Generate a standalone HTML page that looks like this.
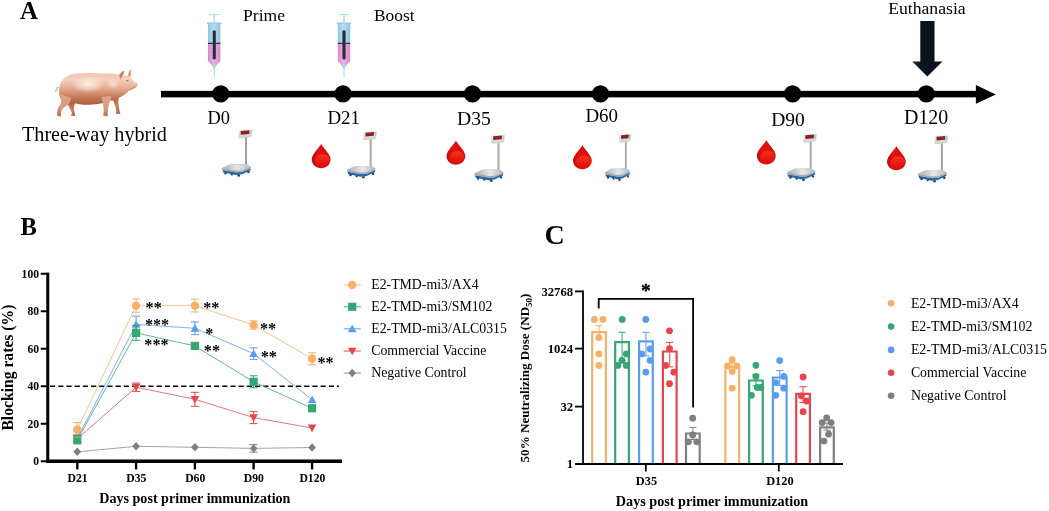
<!DOCTYPE html>
<html lang="en"><head><meta charset="utf-8"><title>Figure: immunization schedule, blocking rates and neutralizing dose</title>
<style>html,body{margin:0;padding:0;background:#fff}svg{display:block;will-change:transform;-webkit-font-smoothing:antialiased}text{font-family:"Liberation Serif", serif;fill:#000} .b{font-weight:bold}</style></head><body>
<svg width="1049" height="511" viewBox="0 0 1049 511">
<defs>
<linearGradient id="gBlue" x1="0" x2="1" y1="0" y2="0"><stop offset="0" stop-color="#8fc4e4"/><stop offset="0.45" stop-color="#b6def2"/><stop offset="1" stop-color="#8fc4e4"/></linearGradient>
<linearGradient id="gPink" x1="0" x2="1" y1="0" y2="0"><stop offset="0" stop-color="#d58ccb"/><stop offset="0.45" stop-color="#eaaee2"/><stop offset="1" stop-color="#d58ccb"/></linearGradient>
<linearGradient id="gPole" x1="0" x2="1" y1="0" y2="0"><stop offset="0" stop-color="#7d7d7d"/><stop offset="0.5" stop-color="#b5b5b5"/><stop offset="1" stop-color="#7d7d7d"/></linearGradient>
<linearGradient id="gHead" x1="0" x2="0" y1="0" y2="1"><stop offset="0" stop-color="#f2f2ee"/><stop offset="1" stop-color="#cfcfc8"/></linearGradient>
<linearGradient id="gPlat" x1="0" x2="1" y1="0" y2="0"><stop offset="0" stop-color="#a9adb1"/><stop offset="0.55" stop-color="#e6e8ea"/><stop offset="1" stop-color="#b4b8bc"/></linearGradient>
<linearGradient id="gBlood" x1="0" x2="1" y1="0" y2="0"><stop offset="0" stop-color="#c40808"/><stop offset="0.35" stop-color="#e01212"/><stop offset="1" stop-color="#d60c0c"/></linearGradient>
<linearGradient id="gBlood2" x1="0" x2="0" y1="0" y2="1"><stop offset="0" stop-color="#f8301e"/><stop offset="1" stop-color="#d80e0b"/></linearGradient>
<linearGradient id="gPig" x1="0" x2="0" y1="0" y2="1"><stop offset="0" stop-color="#efc3ad"/><stop offset="0.3" stop-color="#f4cfbd"/><stop offset="0.55" stop-color="#e4aa8f"/><stop offset="0.78" stop-color="#c57b59"/><stop offset="1" stop-color="#aa5b39"/></linearGradient>
<radialGradient id="gPigHi" cx="0.5" cy="0.5" r="0.5"><stop offset="0" stop-color="#fdf1ea" stop-opacity="0.95"/><stop offset="1" stop-color="#fdf1ea" stop-opacity="0"/></radialGradient>
<linearGradient id="gPigLeg" x1="0" x2="0" y1="0" y2="1"><stop offset="0" stop-color="#e0a488"/><stop offset="0.6" stop-color="#d89a7e"/><stop offset="1" stop-color="#b56c4c"/></linearGradient>
<linearGradient id="gPigLegD" x1="0" x2="0" y1="0" y2="1"><stop offset="0" stop-color="#ab5f3f"/><stop offset="0.6" stop-color="#c58467"/><stop offset="1" stop-color="#ad6444"/></linearGradient>
<linearGradient id="gArrow" x1="0" x2="1" y1="0" y2="0"><stop offset="0" stop-color="#1c2c40"/><stop offset="0.3" stop-color="#0b131d"/><stop offset="1" stop-color="#0a1119"/></linearGradient>
</defs>
<rect width="1049" height="511" fill="#fff"/>
<g id="panelA">
<text class="b" x="20" y="19" font-size="24.9">A</text>
<g><path d="M59.6 88.2 C57.2 86 55.4 88.6 57.4 89.6 C55.2 89.8 55.4 91.6 56.2 92.4" fill="none" stroke="#c98f78" stroke-width="0.9"/><path d="M66.5 100 C67 104 70 108 72 113 L71 115.8 L75.2 116 L74.8 113.6 C73.4 109 73.6 105.4 76 102 Z" fill="url(#gPigLegD)"/><path d="M111.5 97 C113.6 101 115.6 106 116.4 111.6 L115.8 113.8 L120.4 114 L119.6 111.2 C118.8 105.4 117.6 100.2 119 95 Z" fill="url(#gPigLegD)"/><path d="M59.2 92.6 C58.6 86 60.6 79.6 67.4 76 C74 72.8 86 72.6 98 73.2 C106 73.4 113 73.4 118.6 74.4 C120 72.6 122.2 70.6 124.6 70.4 C124.6 72.4 123.6 74.6 122.8 76 C124.4 75.4 126.4 75.2 127.6 75.6 C128 73.2 129.2 70.4 130.8 68.8 C131.8 71 131.6 74.4 130.4 76.8 C132 78.6 133.4 81 134.4 82.6 C136.2 82.4 137.8 83 137.8 84.6 C137.8 86.6 136.2 87.4 134.6 88 C132.8 89.6 130.4 90.6 128.6 91 C126.4 93.6 122.6 96 119.6 97.4 C116.6 99.6 113 100.4 110.4 100.6 C104 103.4 98 104.6 90 104.8 C83 105 77 104.2 72.6 102.4 C68 103.6 62.6 101.6 60.6 98.4 C59.6 96.6 59.2 94.6 59.2 92.6 Z" fill="url(#gPig)"/><ellipse cx="88" cy="84" rx="17" ry="9" fill="url(#gPigHi)"/><ellipse cx="113" cy="84" rx="7" ry="6" fill="url(#gPigHi)" opacity="0.6"/><path d="M60.4 94 C60.6 99 61.6 102 60.4 104.6 C58.6 106.6 57.4 108.6 57.4 111 L57 115.6 L60.8 116.8 L61 114 C60.6 111 62.2 108.6 65.4 106.6 C68.4 104.6 70.6 102.6 71 98 Z" fill="url(#gPigLeg)"/><path d="M101.6 97 C102.6 102 103.6 106 103.8 110.6 L103.2 115.6 L107.6 116.6 L107.8 113.6 C107.6 109 108.6 104.6 110.6 100 C111.2 98.6 111 97 110.6 96 Z" fill="url(#gPigLeg)"/><path d="M119.4 75.6 C120.4 73.6 122.2 71.4 124.2 71 C124 73.4 122.6 76.4 120.2 79.4 Z" fill="#c98468"/><path d="M128.4 75.8 C128.6 73.8 129.6 71.4 130.6 70 C131 72 130.8 74.6 129.8 76.6 Z" fill="#cf9076"/><ellipse cx="127.4" cy="80.8" rx="1.3" ry="0.8" fill="#9a5a48" opacity="0.8"/><path d="M130.6 88.8 C132.6 88.4 134.6 87.6 136 86.4" fill="none" stroke="#b87058" stroke-width="0.6"/></g>
<text x="22" y="140.8" font-size="20.16">Three-way hybrid</text>
<rect x="161" y="90.85" width="817" height="6.5" fill="#000"/>
<path d="M975.9 85.1 L995.9 94.4 L975.9 103.8 Z" fill="#000"/>
<circle cx="220.75" cy="93.9" r="8.7" fill="#000"/>
<circle cx="343" cy="93.9" r="8.7" fill="#000"/>
<circle cx="472.5" cy="93.9" r="8.7" fill="#000"/>
<circle cx="600.5" cy="93.9" r="8.7" fill="#000"/>
<circle cx="792.6" cy="93.9" r="8.7" fill="#000"/>
<circle cx="926.3" cy="93.9" r="8.7" fill="#000"/>
<text x="207.5" y="124.25" font-size="18.41">D0</text>
<text x="327.5" y="124.25" font-size="18.87">D21</text>
<text x="457" y="124.5" font-size="19.60">D35</text>
<text x="585.5" y="121.75" font-size="18.87">D60</text>
<text x="771.2" y="125.8" font-size="19.51">D90</text>
<text x="904" y="123.6" font-size="19.94">D120</text>
<g transform="translate(208.00,0)"><rect x="1" y="14" width="10.6" height="1.1" fill="#b4dcef"/><rect x="5.4" y="14" width="1.7" height="10" fill="#b4dcef"/><rect x="-1.1" y="22.6" width="14.6" height="1.6" rx="0.8" fill="#93c6e4"/><rect x="0" y="23.5" width="12.4" height="20" fill="url(#gBlue)"/><path d="M0 43.4 H12.4 V60 Q12.4 62 10.8 62.8 L7.6 66.5 H4.8 L1.6 62.8 Q0 62 0 60 Z" fill="url(#gPink)"/><path d="M3.4 64.6 L9 64.6 L7 68.6 L5.4 68.6 Z" fill="#a9d6ec"/><rect x="5.8" y="68" width="0.9" height="9.6" fill="#9ed0ea"/><rect x="0" y="42.8" width="12.4" height="1.1" fill="#1d2230"/><rect x="5.0" y="30.8" width="2.4" height="27.6" rx="1.2" fill="#2b2b30"/><path d="M6.2 31.8 V57.8" stroke="#2b2b30" stroke-width="3.3" stroke-dasharray="0.1 2.25" stroke-linecap="round" fill="none"/></g>
<g transform="translate(337.80,0)"><rect x="1" y="14" width="10.6" height="1.1" fill="#b4dcef"/><rect x="5.4" y="14" width="1.7" height="10" fill="#b4dcef"/><rect x="-1.1" y="22.6" width="14.6" height="1.6" rx="0.8" fill="#93c6e4"/><rect x="0" y="23.5" width="12.4" height="20" fill="url(#gBlue)"/><path d="M0 43.4 H12.4 V60 Q12.4 62 10.8 62.8 L7.6 66.5 H4.8 L1.6 62.8 Q0 62 0 60 Z" fill="url(#gPink)"/><path d="M3.4 64.6 L9 64.6 L7 68.6 L5.4 68.6 Z" fill="#a9d6ec"/><rect x="5.8" y="68" width="0.9" height="9.6" fill="#9ed0ea"/><rect x="0" y="42.8" width="12.4" height="1.1" fill="#1d2230"/><rect x="5.0" y="30.8" width="2.4" height="27.6" rx="1.2" fill="#2b2b30"/><path d="M6.2 31.8 V57.8" stroke="#2b2b30" stroke-width="3.3" stroke-dasharray="0.1 2.25" stroke-linecap="round" fill="none"/></g>
<text x="243" y="21" font-size="17.58">Prime</text>
<text x="374" y="20.5" font-size="17.35">Boost</text>
<text x="888.2" y="13.6" font-size="17.66">Euthanasia</text>
<path d="M920.3 20.9 H934.5 V61.4 H942.5 L927.4 76.5 L912.3 61.4 H920.3 Z" fill="url(#gArrow)"/>
<g transform="translate(222.00,128.75) scale(1.000,1)"><rect x="23.1" y="8" width="1.8" height="29.8" fill="url(#gPole)"/><path d="M17.2 1.6 L30.2 0.4 Q31 0.4 30.8 1.3 L29.6 7.4 Q29.4 8.3 28.4 8.5 L18 9.7 Q16.6 9.8 16.6 8.6 L16.5 2.6 Q16.5 1.7 17.2 1.6 Z" fill="url(#gHead)"/><path d="M18.6 2.3 L27.6 1.5 L27.2 5.2 L18.8 6.1 Z" fill="#8b2226"/><path d="M28.2 1.6 L30 1.4 L29.2 5.8 L27.8 6 Z" fill="#a9c5de"/><path d="M0.8 41.2 L14 43.6 L20 43.2 L28.6 39.6 L28.6 41.6 L20 45.6 L14 46.2 L0.8 43.4 Z" fill="#2566a6"/><rect x="2.4" y="43.4" width="2.2" height="2.2" fill="#17406e"/><rect x="15.4" y="45.8" width="2.6" height="2" fill="#17406e"/><rect x="25.4" y="42.4" width="2.2" height="2" fill="#17406e"/><rect x="8.8" y="44.8" width="2" height="1.8" fill="#17406e"/><path d="M0 39.6 L7.8 35.7 L24.8 35.5 L28.8 38.2 L28.8 39.8 L20 43.4 L14 43.8 L0 41.3 Z" fill="#a3a9af"/><path d="M0 39.6 L7.8 35.7 L24.8 35.5 L28.8 38.2 L20 41.7 L14 42.1 Z" fill="url(#gPlat)"/></g>
<g transform="translate(347.00,130.50) scale(0.984,1)"><rect x="23.1" y="8" width="1.8" height="29.8" fill="url(#gPole)"/><path d="M17.2 1.6 L30.2 0.4 Q31 0.4 30.8 1.3 L29.6 7.4 Q29.4 8.3 28.4 8.5 L18 9.7 Q16.6 9.8 16.6 8.6 L16.5 2.6 Q16.5 1.7 17.2 1.6 Z" fill="url(#gHead)"/><path d="M18.6 2.3 L27.6 1.5 L27.2 5.2 L18.8 6.1 Z" fill="#8b2226"/><path d="M28.2 1.6 L30 1.4 L29.2 5.8 L27.8 6 Z" fill="#a9c5de"/><path d="M0.8 41.2 L14 43.6 L20 43.2 L28.6 39.6 L28.6 41.6 L20 45.6 L14 46.2 L0.8 43.4 Z" fill="#2566a6"/><rect x="2.4" y="43.4" width="2.2" height="2.2" fill="#17406e"/><rect x="15.4" y="45.8" width="2.6" height="2" fill="#17406e"/><rect x="25.4" y="42.4" width="2.2" height="2" fill="#17406e"/><rect x="8.8" y="44.8" width="2" height="1.8" fill="#17406e"/><path d="M0 39.6 L7.8 35.7 L24.8 35.5 L28.8 38.2 L28.8 39.8 L20 43.4 L14 43.8 L0 41.3 Z" fill="#a3a9af"/><path d="M0 39.6 L7.8 35.7 L24.8 35.5 L28.8 38.2 L20 41.7 L14 42.1 Z" fill="url(#gPlat)"/></g>
<g transform="translate(474.50,134.00) scale(1.000,1)"><rect x="23.1" y="8" width="1.8" height="29.8" fill="url(#gPole)"/><path d="M17.2 1.6 L30.2 0.4 Q31 0.4 30.8 1.3 L29.6 7.4 Q29.4 8.3 28.4 8.5 L18 9.7 Q16.6 9.8 16.6 8.6 L16.5 2.6 Q16.5 1.7 17.2 1.6 Z" fill="url(#gHead)"/><path d="M18.6 2.3 L27.6 1.5 L27.2 5.2 L18.8 6.1 Z" fill="#8b2226"/><path d="M28.2 1.6 L30 1.4 L29.2 5.8 L27.8 6 Z" fill="#a9c5de"/><path d="M0.8 41.2 L14 43.6 L20 43.2 L28.6 39.6 L28.6 41.6 L20 45.6 L14 46.2 L0.8 43.4 Z" fill="#2566a6"/><rect x="2.4" y="43.4" width="2.2" height="2.2" fill="#17406e"/><rect x="15.4" y="45.8" width="2.6" height="2" fill="#17406e"/><rect x="25.4" y="42.4" width="2.2" height="2" fill="#17406e"/><rect x="8.8" y="44.8" width="2" height="1.8" fill="#17406e"/><path d="M0 39.6 L7.8 35.7 L24.8 35.5 L28.8 38.2 L28.8 39.8 L20 43.4 L14 43.8 L0 41.3 Z" fill="#a3a9af"/><path d="M0 39.6 L7.8 35.7 L24.8 35.5 L28.8 38.2 L20 41.7 L14 42.1 Z" fill="url(#gPlat)"/></g>
<g transform="translate(605.00,133.00) scale(0.863,1)"><rect x="23.1" y="8" width="1.8" height="29.8" fill="url(#gPole)"/><path d="M17.2 1.6 L30.2 0.4 Q31 0.4 30.8 1.3 L29.6 7.4 Q29.4 8.3 28.4 8.5 L18 9.7 Q16.6 9.8 16.6 8.6 L16.5 2.6 Q16.5 1.7 17.2 1.6 Z" fill="url(#gHead)"/><path d="M18.6 2.3 L27.6 1.5 L27.2 5.2 L18.8 6.1 Z" fill="#8b2226"/><path d="M28.2 1.6 L30 1.4 L29.2 5.8 L27.8 6 Z" fill="#a9c5de"/><path d="M0.8 41.2 L14 43.6 L20 43.2 L28.6 39.6 L28.6 41.6 L20 45.6 L14 46.2 L0.8 43.4 Z" fill="#2566a6"/><rect x="2.4" y="43.4" width="2.2" height="2.2" fill="#17406e"/><rect x="15.4" y="45.8" width="2.6" height="2" fill="#17406e"/><rect x="25.4" y="42.4" width="2.2" height="2" fill="#17406e"/><rect x="8.8" y="44.8" width="2" height="1.8" fill="#17406e"/><path d="M0 39.6 L7.8 35.7 L24.8 35.5 L28.8 38.2 L28.8 39.8 L20 43.4 L14 43.8 L0 41.3 Z" fill="#a3a9af"/><path d="M0 39.6 L7.8 35.7 L24.8 35.5 L28.8 38.2 L20 41.7 L14 42.1 Z" fill="url(#gPlat)"/></g>
<g transform="translate(787.00,133.00) scale(0.984,1)"><rect x="23.1" y="8" width="1.8" height="29.8" fill="url(#gPole)"/><path d="M17.2 1.6 L30.2 0.4 Q31 0.4 30.8 1.3 L29.6 7.4 Q29.4 8.3 28.4 8.5 L18 9.7 Q16.6 9.8 16.6 8.6 L16.5 2.6 Q16.5 1.7 17.2 1.6 Z" fill="url(#gHead)"/><path d="M18.6 2.3 L27.6 1.5 L27.2 5.2 L18.8 6.1 Z" fill="#8b2226"/><path d="M28.2 1.6 L30 1.4 L29.2 5.8 L27.8 6 Z" fill="#a9c5de"/><path d="M0.8 41.2 L14 43.6 L20 43.2 L28.6 39.6 L28.6 41.6 L20 45.6 L14 46.2 L0.8 43.4 Z" fill="#2566a6"/><rect x="2.4" y="43.4" width="2.2" height="2.2" fill="#17406e"/><rect x="15.4" y="45.8" width="2.6" height="2" fill="#17406e"/><rect x="25.4" y="42.4" width="2.2" height="2" fill="#17406e"/><rect x="8.8" y="44.8" width="2" height="1.8" fill="#17406e"/><path d="M0 39.6 L7.8 35.7 L24.8 35.5 L28.8 38.2 L28.8 39.8 L20 43.4 L14 43.8 L0 41.3 Z" fill="#a3a9af"/><path d="M0 39.6 L7.8 35.7 L24.8 35.5 L28.8 38.2 L20 41.7 L14 42.1 Z" fill="url(#gPlat)"/></g>
<g transform="translate(918.00,134.50) scale(0.992,1)"><rect x="23.1" y="8" width="1.8" height="29.8" fill="url(#gPole)"/><path d="M17.2 1.6 L30.2 0.4 Q31 0.4 30.8 1.3 L29.6 7.4 Q29.4 8.3 28.4 8.5 L18 9.7 Q16.6 9.8 16.6 8.6 L16.5 2.6 Q16.5 1.7 17.2 1.6 Z" fill="url(#gHead)"/><path d="M18.6 2.3 L27.6 1.5 L27.2 5.2 L18.8 6.1 Z" fill="#8b2226"/><path d="M28.2 1.6 L30 1.4 L29.2 5.8 L27.8 6 Z" fill="#a9c5de"/><path d="M0.8 41.2 L14 43.6 L20 43.2 L28.6 39.6 L28.6 41.6 L20 45.6 L14 46.2 L0.8 43.4 Z" fill="#2566a6"/><rect x="2.4" y="43.4" width="2.2" height="2.2" fill="#17406e"/><rect x="15.4" y="45.8" width="2.6" height="2" fill="#17406e"/><rect x="25.4" y="42.4" width="2.2" height="2" fill="#17406e"/><rect x="8.8" y="44.8" width="2" height="1.8" fill="#17406e"/><path d="M0 39.6 L7.8 35.7 L24.8 35.5 L28.8 38.2 L28.8 39.8 L20 43.4 L14 43.8 L0 41.3 Z" fill="#a3a9af"/><path d="M0 39.6 L7.8 35.7 L24.8 35.5 L28.8 38.2 L20 41.7 L14 42.1 Z" fill="url(#gPlat)"/></g>
<g transform="translate(311.75,143.75)"><path d="M9.4 0 C10.6 3.4 18.8 10.2 18.8 15.4 C18.8 20.6 14.6 24.4 9.4 24.4 C4.2 24.4 0 20.6 0 15.4 C0 10.2 8.2 3.4 9.4 0 Z" fill="url(#gBlood)"/><path d="M10.8 10.6 C15.6 10.6 17.8 13.6 17.8 16.2 C17.8 20.4 14.4 23.2 10.4 23.2 C6.4 23.2 3.4 20.6 3.4 16.8 C3.4 13.2 6.6 10.6 10.8 10.6 Z" fill="url(#gBlood2)"/></g>
<g transform="translate(446.50,140.40)"><path d="M9.4 0 C10.6 3.4 18.8 10.2 18.8 15.4 C18.8 20.6 14.6 24.4 9.4 24.4 C4.2 24.4 0 20.6 0 15.4 C0 10.2 8.2 3.4 9.4 0 Z" fill="url(#gBlood)"/><path d="M10.8 10.6 C15.6 10.6 17.8 13.6 17.8 16.2 C17.8 20.4 14.4 23.2 10.4 23.2 C6.4 23.2 3.4 20.6 3.4 16.8 C3.4 13.2 6.6 10.6 10.8 10.6 Z" fill="url(#gBlood2)"/></g>
<g transform="translate(573.00,144.90)"><path d="M9.4 0 C10.6 3.4 18.8 10.2 18.8 15.4 C18.8 20.6 14.6 24.4 9.4 24.4 C4.2 24.4 0 20.6 0 15.4 C0 10.2 8.2 3.4 9.4 0 Z" fill="url(#gBlood)"/><path d="M10.8 10.6 C15.6 10.6 17.8 13.6 17.8 16.2 C17.8 20.4 14.4 23.2 10.4 23.2 C6.4 23.2 3.4 20.6 3.4 16.8 C3.4 13.2 6.6 10.6 10.8 10.6 Z" fill="url(#gBlood2)"/></g>
<g transform="translate(756.90,140.10)"><path d="M9.4 0 C10.6 3.4 18.8 10.2 18.8 15.4 C18.8 20.6 14.6 24.4 9.4 24.4 C4.2 24.4 0 20.6 0 15.4 C0 10.2 8.2 3.4 9.4 0 Z" fill="url(#gBlood)"/><path d="M10.8 10.6 C15.6 10.6 17.8 13.6 17.8 16.2 C17.8 20.4 14.4 23.2 10.4 23.2 C6.4 23.2 3.4 20.6 3.4 16.8 C3.4 13.2 6.6 10.6 10.8 10.6 Z" fill="url(#gBlood2)"/></g>
<g transform="translate(887.00,145.90)"><path d="M9.4 0 C10.6 3.4 18.8 10.2 18.8 15.4 C18.8 20.6 14.6 24.4 9.4 24.4 C4.2 24.4 0 20.6 0 15.4 C0 10.2 8.2 3.4 9.4 0 Z" fill="url(#gBlood)"/><path d="M10.8 10.6 C15.6 10.6 17.8 13.6 17.8 16.2 C17.8 20.4 14.4 23.2 10.4 23.2 C6.4 23.2 3.4 20.6 3.4 16.8 C3.4 13.2 6.6 10.6 10.8 10.6 Z" fill="url(#gBlood2)"/></g>
</g>
<g id="panelB">
<text class="b" x="20.5" y="235" font-size="24.6">B</text>
<path d="M50 386.25 H339" stroke="#000" stroke-width="1.3" stroke-dasharray="5.2 3" fill="none"/>
<polyline points="77.3,451.8 136.1,446.3 194.9,447.3 253.6,448.4 312.1,447.5" fill="none" stroke="#8c8c8c" stroke-width="0.9" stroke-opacity="0.9"/>
<path d="M253.6 444.60 V452.20 M249.60 444.60 H257.60 M249.60 452.20 H257.60" stroke="#808080" stroke-width="1" fill="none"/>
<path d="M77.3 447.60 L81.20 451.8 L77.3 456.00 L73.40 451.8 Z" fill="#808080"/>
<path d="M136.1 442.10 L140.00 446.3 L136.1 450.50 L132.20 446.3 Z" fill="#808080"/>
<path d="M194.9 443.10 L198.80 447.3 L194.9 451.50 L191.00 447.3 Z" fill="#808080"/>
<path d="M253.6 444.20 L257.50 448.4 L253.6 452.60 L249.70 448.4 Z" fill="#808080"/>
<path d="M312.1 443.30 L316.00 447.5 L312.1 451.70 L308.20 447.5 Z" fill="#808080"/>
<polyline points="77.3,438.8 136.1,387.2 194.9,399.3 253.6,417.6 312.1,428.0" fill="none" stroke="#dc5558" stroke-width="0.9" stroke-opacity="0.9"/>
<path d="M136.1 383.00 V391.40 M132.10 383.00 H140.10 M132.10 391.40 H140.10" stroke="#e8454b" stroke-width="1" fill="none"/>
<path d="M194.9 392.30 V406.30 M190.90 392.30 H198.90 M190.90 406.30 H198.90" stroke="#e8454b" stroke-width="1" fill="none"/>
<path d="M253.6 411.60 V423.60 M249.60 411.60 H257.60 M249.60 423.60 H257.60" stroke="#e8454b" stroke-width="1" fill="none"/>
<path d="M77.3 443.00 L81.60 435.40 L73.00 435.40 Z" fill="#e8454b"/>
<path d="M136.1 391.40 L140.40 383.80 L131.80 383.80 Z" fill="#e8454b"/>
<path d="M194.9 403.50 L199.20 395.90 L190.60 395.90 Z" fill="#e8454b"/>
<path d="M253.6 421.80 L257.90 414.20 L249.30 414.20 Z" fill="#e8454b"/>
<path d="M312.1 432.20 L316.40 424.60 L307.80 424.60 Z" fill="#e8454b"/>
<polyline points="77.3,438.6 136.1,324.4 194.9,328.3 253.6,353.6 312.1,399.6" fill="none" stroke="#5f9fe6" stroke-width="0.9" stroke-opacity="0.9"/>
<path d="M136.1 316.20 V332.60 M132.10 316.20 H140.10 M132.10 332.60 H140.10" stroke="#5a9dee" stroke-width="1" fill="none"/>
<path d="M194.9 321.90 V334.70 M190.90 321.90 H198.90 M190.90 334.70 H198.90" stroke="#5a9dee" stroke-width="1" fill="none"/>
<path d="M253.6 347.80 V359.40 M249.60 347.80 H257.60 M249.60 359.40 H257.60" stroke="#5a9dee" stroke-width="1" fill="none"/>
<path d="M77.3 434.40 L81.60 442.00 L73.00 442.00 Z" fill="#5a9dee"/>
<path d="M136.1 320.20 L140.40 327.80 L131.80 327.80 Z" fill="#5a9dee"/>
<path d="M194.9 324.10 L199.20 331.70 L190.60 331.70 Z" fill="#5a9dee"/>
<path d="M253.6 349.40 L257.90 357.00 L249.30 357.00 Z" fill="#5a9dee"/>
<path d="M312.1 395.40 L316.40 403.00 L307.80 403.00 Z" fill="#5a9dee"/>
<polyline points="77.3,440.3 136.1,332.9 194.9,345.9 253.6,381.8 312.1,408.3" fill="none" stroke="#43a57a" stroke-width="0.9" stroke-opacity="0.9"/>
<path d="M136.1 325.50 V340.30 M132.10 325.50 H140.10 M132.10 340.30 H140.10" stroke="#36a773" stroke-width="1" fill="none"/>
<path d="M194.9 343.90 V347.90 M190.90 343.90 H198.90 M190.90 347.90 H198.90" stroke="#36a773" stroke-width="1" fill="none"/>
<path d="M253.6 375.80 V387.80 M249.60 375.80 H257.60 M249.60 387.80 H257.60" stroke="#36a773" stroke-width="1" fill="none"/>
<rect x="73.20" y="436.20" width="8.2" height="8.2" fill="#36a773"/>
<rect x="132.00" y="328.80" width="8.2" height="8.2" fill="#36a773"/>
<rect x="190.80" y="341.80" width="8.2" height="8.2" fill="#36a773"/>
<rect x="249.50" y="377.70" width="8.2" height="8.2" fill="#36a773"/>
<rect x="308.00" y="404.20" width="8.2" height="8.2" fill="#36a773"/>
<polyline points="77.3,429.75 136.1,305.6 194.9,305.6 253.6,325.0 312.1,358.75" fill="none" stroke="#ecb582" stroke-width="0.9" stroke-opacity="0.9"/>
<path d="M77.3 422.55 V436.95 M73.30 422.55 H81.30 M73.30 436.95 H81.30" stroke="#f4b168" stroke-width="1" fill="none"/>
<path d="M136.1 299.00 V312.20 M132.10 299.00 H140.10 M132.10 312.20 H140.10" stroke="#f4b168" stroke-width="1" fill="none"/>
<path d="M194.9 299.20 V312.00 M190.90 299.20 H198.90 M190.90 312.00 H198.90" stroke="#f4b168" stroke-width="1" fill="none"/>
<path d="M253.6 320.80 V329.20 M249.60 320.80 H257.60 M249.60 329.20 H257.60" stroke="#f4b168" stroke-width="1" fill="none"/>
<path d="M312.1 352.75 V364.75 M308.10 352.75 H316.10 M308.10 364.75 H316.10" stroke="#f4b168" stroke-width="1" fill="none"/>
<circle cx="77.3" cy="429.75" r="4.2" fill="#f4b168"/>
<circle cx="136.1" cy="305.6" r="4.2" fill="#f4b168"/>
<circle cx="194.9" cy="305.6" r="4.2" fill="#f4b168"/>
<circle cx="253.6" cy="325.0" r="4.2" fill="#f4b168"/>
<circle cx="312.1" cy="358.75" r="4.2" fill="#f4b168"/>
<rect x="73.2" y="434.4" width="8.2" height="2" fill="#3f9a70"/>
<rect x="46.25" y="272.6" width="3" height="190.4" fill="#000"/>
<rect x="46.25" y="459.5" width="295.8" height="3.5" fill="#000"/>
<rect x="40.75" y="272.75" width="6" height="2" fill="#000"/>
<text class="b" x="39" y="277.65" font-size="11.6" text-anchor="end">100</text>
<rect x="40.75" y="310.25" width="6" height="2" fill="#000"/>
<text class="b" x="39" y="315.15" font-size="11.6" text-anchor="end">80</text>
<rect x="40.75" y="347.75" width="6" height="2" fill="#000"/>
<text class="b" x="39" y="352.65" font-size="11.6" text-anchor="end">60</text>
<rect x="40.75" y="385.25" width="6" height="2" fill="#000"/>
<text class="b" x="39" y="390.15" font-size="11.6" text-anchor="end">40</text>
<rect x="40.75" y="422.75" width="6" height="2" fill="#000"/>
<text class="b" x="39" y="427.65" font-size="11.6" text-anchor="end">20</text>
<rect x="40.75" y="460.25" width="6" height="2" fill="#000"/>
<text class="b" x="39" y="465.15" font-size="11.6" text-anchor="end">0</text>
<rect x="76.10" y="462.5" width="2.4" height="6.9" fill="#000"/>
<text class="b" x="77.60" y="481.8" font-size="11.7" text-anchor="middle">D21</text>
<rect x="134.90" y="462.5" width="2.4" height="6.9" fill="#000"/>
<text class="b" x="136.40" y="481.8" font-size="11.7" text-anchor="middle">D35</text>
<rect x="193.70" y="462.5" width="2.4" height="6.9" fill="#000"/>
<text class="b" x="195.20" y="481.8" font-size="11.7" text-anchor="middle">D60</text>
<rect x="252.40" y="462.5" width="2.4" height="6.9" fill="#000"/>
<text class="b" x="253.90" y="481.8" font-size="11.7" text-anchor="middle">D90</text>
<rect x="310.90" y="462.5" width="2.4" height="6.9" fill="#000"/>
<text class="b" x="312.40" y="481.8" font-size="11.7" text-anchor="middle">D120</text>
<text class="b" x="99.25" y="503" font-size="14.1">Days post primer immunization</text>
<text class="b" transform="translate(13.0,430.6) rotate(-90)" font-size="15.65">Blocking rates (%)</text>
<text class="b" x="145.60" y="312.70" font-size="16.2">**</text>
<text class="b" x="144.90" y="330.10" font-size="16.2">***</text>
<text class="b" x="144.30" y="350.00" font-size="16.2">***</text>
<text class="b" x="203.20" y="313.00" font-size="16.2">**</text>
<text class="b" x="205.20" y="338.90" font-size="16.2">*</text>
<text class="b" x="203.80" y="355.50" font-size="16.2">**</text>
<text class="b" x="260.00" y="333.60" font-size="16.2">**</text>
<text class="b" x="260.70" y="361.60" font-size="16.2">**</text>
<text class="b" x="317.50" y="367.80" font-size="16.2">**</text>
<path d="M343.75 285.0 H360.75" stroke="#ecb582" stroke-width="1" fill="none"/>
<circle cx="352.2" cy="285.0" r="4.2" fill="#f4b168"/>
<text x="371.25" y="288.90" font-size="13.8">E2-TMD-mi3/AX4</text>
<path d="M343.75 306.8 H360.75" stroke="#43a57a" stroke-width="1" fill="none"/>
<rect x="348.10" y="302.70" width="8.2" height="8.2" fill="#36a773"/>
<text x="371.25" y="310.70" font-size="13.8">E2-TMD-mi3/SM102</text>
<path d="M343.75 328.8 H360.75" stroke="#5f9fe6" stroke-width="1" fill="none"/>
<path d="M352.2 324.60 L356.50 332.20 L347.90 332.20 Z" fill="#5a9dee"/>
<text x="371.25" y="332.70" font-size="13.8">E2-TMD-mi3/ALC0315</text>
<path d="M343.75 351.1 H360.75" stroke="#dc5558" stroke-width="1" fill="none"/>
<path d="M352.2 355.30 L356.50 347.70 L347.90 347.70 Z" fill="#e8454b"/>
<text x="371.25" y="355.00" font-size="13.8">Commercial Vaccine</text>
<path d="M343.75 373.0 H360.75" stroke="#8c8c8c" stroke-width="1" fill="none"/>
<path d="M352.2 368.80 L356.10 373.0 L352.2 377.20 L348.30 373.0 Z" fill="#808080"/>
<text x="371.25" y="376.90" font-size="13.8">Negative Control</text>
</g>
<g id="panelC">
<text class="b" x="544.5" y="243.6" font-size="28">C</text>
<path d="M592.20 464.0 V332.10 H605.90 V464.0" fill="#fff" stroke="#f4b168" stroke-width="2.2"/>
<path d="M599.05 325.70 V338.83 M595.45 325.70 H602.65 M595.45 338.83 H602.65" stroke="#f4b168" stroke-width="1" fill="none"/>
<circle cx="594.4" cy="319.4" r="3.4" fill="#f4b168"/>
<circle cx="603.0" cy="319.4" r="3.4" fill="#f4b168"/>
<circle cx="598.9" cy="337.5" r="3.4" fill="#f4b168"/>
<circle cx="598.9" cy="353.9" r="3.4" fill="#f4b168"/>
<circle cx="598.9" cy="365.4" r="3.4" fill="#f4b168"/>
<path d="M615.20 464.0 V342.10 H628.90 V464.0" fill="#fff" stroke="#36a773" stroke-width="2.2"/>
<path d="M622.05 332.30 V360.40 M618.45 332.30 H625.65 M618.45 360.40 H625.65" stroke="#36a773" stroke-width="1" fill="none"/>
<circle cx="622.2" cy="319.4" r="3.4" fill="#36a773"/>
<circle cx="626.3" cy="353.9" r="3.4" fill="#36a773"/>
<circle cx="622.0" cy="360.4" r="3.4" fill="#36a773"/>
<circle cx="617.9" cy="365.4" r="3.4" fill="#36a773"/>
<circle cx="626.3" cy="365.4" r="3.4" fill="#36a773"/>
<path d="M639.10 464.0 V341.30 H652.80 V464.0" fill="#fff" stroke="#5a9dee" stroke-width="2.2"/>
<path d="M645.95 332.30 V355.82 M642.35 332.30 H649.55 M642.35 355.82 H649.55" stroke="#5a9dee" stroke-width="1" fill="none"/>
<circle cx="645.8" cy="319.4" r="3.4" fill="#5a9dee"/>
<circle cx="650.1" cy="349.0" r="3.4" fill="#5a9dee"/>
<circle cx="641.8" cy="353.9" r="3.4" fill="#5a9dee"/>
<circle cx="650.1" cy="360.4" r="3.4" fill="#5a9dee"/>
<circle cx="645.8" cy="372.2" r="3.4" fill="#5a9dee"/>
<path d="M662.90 464.0 V351.50 H676.60 V464.0" fill="#fff" stroke="#e8454b" stroke-width="2.2"/>
<path d="M669.75 342.30 V366.87 M666.15 342.30 H673.35 M666.15 366.87 H673.35" stroke="#e8454b" stroke-width="1" fill="none"/>
<circle cx="669.5" cy="330.8" r="3.4" fill="#e8454b"/>
<circle cx="669.5" cy="348.6" r="3.4" fill="#e8454b"/>
<circle cx="665.6" cy="365.4" r="3.4" fill="#e8454b"/>
<circle cx="673.9" cy="372.2" r="3.4" fill="#e8454b"/>
<circle cx="669.5" cy="383.7" r="3.4" fill="#e8454b"/>
<path d="M686.00 464.0 V433.50 H699.70 V464.0" fill="#fff" stroke="#808080" stroke-width="2.2"/>
<path d="M692.85 427.40 V439.59 M689.25 427.40 H696.45 M689.25 439.59 H696.45" stroke="#808080" stroke-width="1" fill="none"/>
<circle cx="692.7" cy="418.2" r="3.4" fill="#808080"/>
<circle cx="692.7" cy="434.9" r="3.4" fill="#808080"/>
<circle cx="688.5" cy="441.8" r="3.4" fill="#808080"/>
<circle cx="696.7" cy="441.8" r="3.4" fill="#808080"/>
<path d="M725.40 464.0 V367.00 H739.10 V464.0" fill="#fff" stroke="#f4b168" stroke-width="2.2"/>
<path d="M732.25 362.90 V369.56 M728.65 362.90 H735.85 M728.65 369.56 H735.85" stroke="#f4b168" stroke-width="1" fill="none"/>
<circle cx="732.2" cy="359.7" r="3.4" fill="#f4b168"/>
<circle cx="727.6" cy="365.9" r="3.4" fill="#f4b168"/>
<circle cx="736.9" cy="365.9" r="3.4" fill="#f4b168"/>
<circle cx="732.2" cy="371.6" r="3.4" fill="#f4b168"/>
<circle cx="732.2" cy="388.2" r="3.4" fill="#f4b168"/>
<path d="M749.10 464.0 V380.50 H762.80 V464.0" fill="#fff" stroke="#36a773" stroke-width="2.2"/>
<path d="M755.95 374.80 V385.79 M752.35 374.80 H759.55 M752.35 385.79 H759.55" stroke="#36a773" stroke-width="1" fill="none"/>
<circle cx="755.9" cy="365.3" r="3.4" fill="#36a773"/>
<circle cx="755.9" cy="376.4" r="3.4" fill="#36a773"/>
<circle cx="757.3" cy="387.5" r="3.4" fill="#36a773"/>
<circle cx="761.0" cy="387.5" r="3.4" fill="#36a773"/>
<circle cx="751.5" cy="395.3" r="3.4" fill="#36a773"/>
<path d="M772.90 464.0 V377.50 H786.60 V464.0" fill="#fff" stroke="#5a9dee" stroke-width="2.2"/>
<path d="M779.75 370.60 V385.39 M776.15 370.60 H783.35 M776.15 385.39 H783.35" stroke="#5a9dee" stroke-width="1" fill="none"/>
<circle cx="779.7" cy="360.6" r="3.4" fill="#5a9dee"/>
<circle cx="783.7" cy="376.4" r="3.4" fill="#5a9dee"/>
<circle cx="775.8" cy="382.6" r="3.4" fill="#5a9dee"/>
<circle cx="783.7" cy="388.2" r="3.4" fill="#5a9dee"/>
<circle cx="775.8" cy="395.3" r="3.4" fill="#5a9dee"/>
<path d="M796.20 464.0 V393.90 H809.90 V464.0" fill="#fff" stroke="#e8454b" stroke-width="2.2"/>
<path d="M803.05 386.70 V402.55 M799.45 386.70 H806.65 M799.45 402.55 H806.65" stroke="#e8454b" stroke-width="1" fill="none"/>
<circle cx="803.1" cy="377.0" r="3.4" fill="#e8454b"/>
<circle cx="801.4" cy="395.8" r="3.4" fill="#e8454b"/>
<circle cx="806.6" cy="401.0" r="3.4" fill="#e8454b"/>
<circle cx="803.1" cy="411.7" r="3.4" fill="#e8454b"/>
<path d="M820.10 464.0 V427.30 H833.80 V464.0" fill="#fff" stroke="#808080" stroke-width="2.2"/>
<path d="M826.95 423.00 V430.17 M823.35 423.00 H830.55 M823.35 430.17 H830.55" stroke="#808080" stroke-width="1" fill="none"/>
<circle cx="826.7" cy="417.8" r="3.4" fill="#808080"/>
<circle cx="822.2" cy="422.6" r="3.4" fill="#808080"/>
<circle cx="831.1" cy="422.6" r="3.4" fill="#808080"/>
<circle cx="828.6" cy="434.2" r="3.4" fill="#808080"/>
<circle cx="824.0" cy="441.1" r="3.4" fill="#808080"/>
<path d="M598.7 308.5 V298.8 H693.1 V407.4" fill="none" stroke="#000" stroke-width="1.8"/>
<text class="b" x="645.95" y="296.5" font-size="19.6" text-anchor="middle" stroke="#000" stroke-width="0.35">*</text>
<path d="M583 290.5 V464.9" stroke="#000" stroke-width="1.8" fill="none"/>
<path d="M575.7 464 H843" stroke="#000" stroke-width="1.8" fill="none"/>
<path d="M575 291.4 H583" stroke="#000" stroke-width="1.8"/>
<text class="b" x="573.1" y="295.80" font-size="12.7" text-anchor="end">32768</text>
<path d="M575 348.6 H583" stroke="#000" stroke-width="1.8"/>
<text class="b" x="573.1" y="353.00" font-size="12.7" text-anchor="end">1024</text>
<path d="M575 406.6 H583" stroke="#000" stroke-width="1.8"/>
<text class="b" x="573.1" y="411.00" font-size="12.7" text-anchor="end">32</text>
<path d="M575 464.0 H583" stroke="#000" stroke-width="1.8"/>
<text class="b" x="573.1" y="468.40" font-size="12.7" text-anchor="end">1</text>
<path d="M645.8 464 V471.5" stroke="#000" stroke-width="1.8"/>
<text class="b" x="646.5" y="485.2" font-size="12.4" text-anchor="middle">D35</text>
<path d="M778.8 464 V471.5" stroke="#000" stroke-width="1.8"/>
<text class="b" x="779.9" y="485.2" font-size="12.4" text-anchor="middle">D120</text>
<text class="b" x="615.8" y="506.3" font-size="14.2">Days post primer immunization</text>
<text class="b" transform="translate(529.4,462.4) rotate(-90)" font-size="13.05">50% Neutralizing Dose (ND<tspan font-size="9" dy="2.2">50</tspan><tspan dy="-2.2">)</tspan></text>
<circle cx="891.1" cy="303.3" r="3.3" fill="#f4b168"/>
<text x="910.9" y="307.80" font-size="13.85">E2-TMD-mi3/AX4</text>
<circle cx="891.1" cy="326.6" r="3.3" fill="#36a773"/>
<text x="910.9" y="331.10" font-size="13.85">E2-TMD-mi3/SM102</text>
<circle cx="891.1" cy="349.9" r="3.3" fill="#5a9dee"/>
<text x="910.9" y="354.40" font-size="13.85">E2-TMD-mi3/ALC0315</text>
<circle cx="891.1" cy="372.7" r="3.3" fill="#e8454b"/>
<text x="910.9" y="377.20" font-size="13.85">Commercial Vaccine</text>
<circle cx="891.1" cy="395.7" r="3.3" fill="#808080"/>
<text x="910.9" y="400.20" font-size="13.85">Negative Control</text>
</g>
</svg></body></html>
